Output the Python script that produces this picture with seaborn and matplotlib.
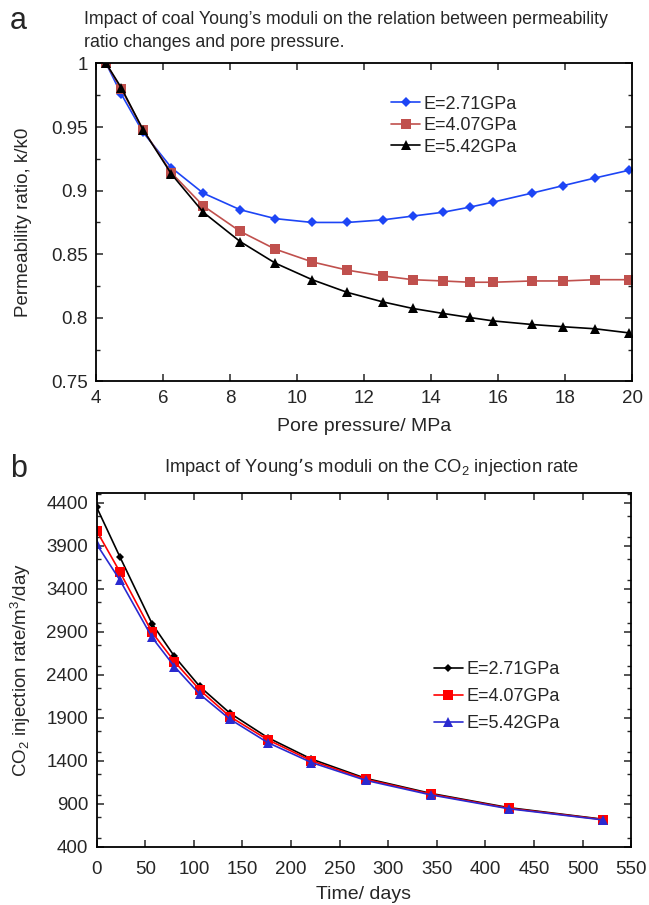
import matplotlib
matplotlib.use("Agg")
import matplotlib.pyplot as plt
import seaborn as sns
import pandas as pd
from matplotlib.ticker import MultipleLocator, FormatStrFormatter

# panel a: permeability ratio vs pore pressure
pressure = [4.3, 4.75, 5.4, 6.25, 7.2, 8.3, 9.35, 10.45, 11.5, 12.55, 13.45,
            14.35, 15.15, 15.85, 17.0, 17.95, 18.9, 19.9]
ratio_271 = [1.0, 0.976, 0.946, 0.918, 0.898, 0.885, 0.878, 0.875, 0.875, 0.877,
             0.880, 0.883, 0.887, 0.891, 0.898, 0.904, 0.910, 0.916]
ratio_407 = [1.0, 0.980, 0.948, 0.914, 0.888, 0.868, 0.854, 0.844, 0.8375, 0.833,
             0.830, 0.829, 0.828, 0.828, 0.829, 0.829, 0.830, 0.830]
ratio_542 = [1.0, 0.981, 0.948, 0.913, 0.883, 0.860, 0.843, 0.830, 0.820, 0.8126,
             0.8074, 0.8035, 0.8003, 0.7976, 0.7948, 0.793, 0.7914, 0.7882]

# panel b: CO2 injection rate vs time
days = [0, 24, 57, 80, 106, 137, 176, 221, 277, 344, 424, 521]
rate_271 = [4350, 3770, 2995, 2615, 2265, 1955, 1670, 1420, 1195, 1020, 855, 720]
rate_407 = [4075, 3595, 2895, 2555, 2225, 1915, 1645, 1400, 1185, 1012, 848, 716]
rate_542 = [3920, 3500, 2835, 2497, 2175, 1885, 1612, 1380, 1172, 1003, 842, 712]

series = ["E=2.71GPa", "E=4.07GPa", "E=5.42GPa"]

df_a = pd.concat([
    pd.DataFrame({"p": pressure, "k": r, "E": s})
    for s, r in zip(series, [ratio_271, ratio_407, ratio_542])
])
df_b = pd.concat([
    pd.DataFrame({"t": days, "q": r, "E": s})
    for s, r in zip(series, [rate_271, rate_407, rate_542])
])

sns.set_style("ticks")
plt.rcParams['font.family'] = ['Liberation Sans', 'DejaVu Sans']
plt.rcParams['mathtext.default'] = 'regular'
plt.rcParams['axes.linewidth'] = 1.3

fig = plt.figure(figsize=(6.49, 9.05), dpi=100)

def style_axes(ax, xpad=6):
    ax.tick_params(which="both", direction="in", top=True, right=True, labelsize=13.5)
    ax.tick_params(which="major", length=5, width=1.1, pad=6)
    ax.tick_params(axis="x", which="major", pad=xpad)
    ax.tick_params(which="minor", length=3, width=1.0)
    for s in ax.spines.values():
        s.set_color("black")

def set_marker_sizes(ax, sizes):
    for line, ms in zip(ax.lines, sizes):
        line.set_markersize(ms)
    leg = ax.get_legend()
    if leg is not None:
        for h, ms in zip(leg.legend_handles, sizes):
            h.set_markersize(ms)

# ---- panel a ----
ax1 = fig.add_axes([0.148, 0.5785, 0.826, 0.3514])
sns.lineplot(data=df_a, x="p", y="k", hue="E", style="E", ax=ax1,
             palette={"E=2.71GPa": "#1d45f5", "E=4.07GPa": "#c0504d", "E=5.42GPa": "black"},
             markers={"E=2.71GPa": "D", "E=4.07GPa": "s", "E=5.42GPa": "^"},
             dashes=False, linewidth=1.2, markeredgewidth=0)
ax1.set_xlim(4, 20)
ax1.set_ylim(0.75, 1.0)
ax1.xaxis.set_major_locator(MultipleLocator(2))
ax1.yaxis.set_major_locator(MultipleLocator(0.05))
ax1.yaxis.set_minor_locator(MultipleLocator(0.025))
ax1.yaxis.set_major_formatter(FormatStrFormatter("%g"))
ax1.set_xlabel("Pore pressure/ MPa", fontsize=14, labelpad=8)
ax1.set_ylabel("Permeability ratio, k/k0", fontsize=13.5, labelpad=14)
style_axes(ax1, xpad=6)
ax1.legend(loc="upper left", bbox_to_anchor=(0.52, 0.95), frameon=False,
           fontsize=13, handlelength=1.6, handletextpad=0.2, labelspacing=0.25)
set_marker_sizes(ax1, [5, 6.5, 6.5])

# ---- panel b ----
ax2 = fig.add_axes([0.149, 0.0644, 0.8235, 0.3912])
sns.lineplot(data=df_b, x="t", y="q", hue="E", style="E", ax=ax2,
             palette={"E=2.71GPa": "black", "E=4.07GPa": "#ff0000", "E=5.42GPa": "#2a2ad0"},
             markers={"E=2.71GPa": "D", "E=4.07GPa": "s", "E=5.42GPa": "^"},
             dashes=False, linewidth=1.2, markeredgewidth=0)
ax2.set_xlim(0, 550)
ax2.set_ylim(400, 4520)
ax2.xaxis.set_major_locator(MultipleLocator(50))
ax2.set_yticks([400, 900, 1400, 1900, 2400, 2900, 3400, 3900, 4400])
ax2.yaxis.set_minor_locator(MultipleLocator(250))
ax2.set_xlabel("Time/ days", fontsize=14, labelpad=6)
ax2.set_ylabel("CO$_2$ injection rate/m$^3$/day", fontsize=13.5, labelpad=10)
style_axes(ax2, xpad=10)
ax2.legend(loc="upper left", bbox_to_anchor=(0.6, 0.57), frameon=False,
           fontsize=13, handlelength=1.6, handletextpad=0.2, labelspacing=0.55)
set_marker_sizes(ax2, [4.5, 6.5, 6.5])

# panel letters and titles
fig.text(0.015, 0.968, "a", fontsize=22, va="baseline")
fig.text(0.129, 0.974, "Impact of coal Young\u2019s moduli on the relation between permeability",
         fontsize=12.8, va="baseline")
fig.text(0.129, 0.948, "ratio changes and pore pressure.", fontsize=12.8, va="baseline")
fig.text(0.015, 0.473, "b", fontsize=22, va="baseline")
fig.text(0.572, 0.478, "Impact of Young\u2019s moduli on the CO$_2$ injection rate",
         fontsize=13.2, ha="center", va="baseline")

fig.savefig("out.png", dpi=100)
